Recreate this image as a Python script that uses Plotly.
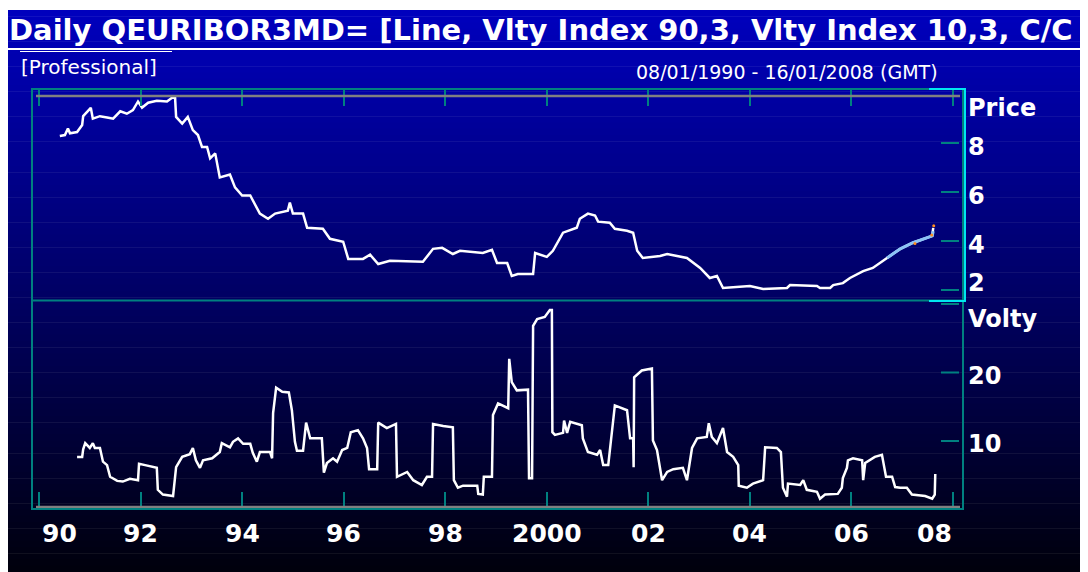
import plotly.graph_objects as go

# ---------------- data ----------------
price_years = [1990.41, 1990.51, 1990.57, 1990.61, 1990.75, 1990.85, 1990.87, 1991.02, 1991.06, 1991.20,
               1991.34, 1991.46, 1991.60, 1991.73, 1991.85, 1991.95, 1992.03, 1992.15, 1992.32, 1992.52,
               1992.62, 1992.68, 1992.70, 1992.82, 1992.93, 1993.03, 1993.13, 1993.21, 1993.31, 1993.37,
               1993.47, 1993.56, 1993.76, 1993.86, 1994.00, 1994.16, 1994.35, 1994.51, 1994.65, 1994.90,
               1994.94, 1995.00, 1995.20, 1995.28, 1995.59, 1995.73, 1995.99, 1996.09, 1996.38, 1996.52,
               1996.68, 1996.91, 1997.56, 1997.76, 1997.94, 1998.15, 1998.29, 1998.74, 1998.92, 1999.02,
               1999.22, 1999.31, 1999.43, 1999.73, 1999.77, 2000.00, 2000.12, 2000.32, 2000.59, 2000.65,
               2000.81, 2000.95, 2001.01, 2001.24, 2001.34, 2001.58, 2001.70, 2001.78, 2001.89, 2002.23,
               2002.37, 2002.76, 2003.02, 2003.21, 2003.35, 2003.47, 2004.00, 2004.26, 2004.73, 2004.79,
               2005.32, 2005.38, 2005.58, 2005.64, 2005.83, 2005.97, 2006.23, 2006.42, 2006.70, 2006.96,
               2007.21, 2007.41, 2007.59, 2007.61]
price_values = [8.29, 8.33, 8.60, 8.40, 8.45, 8.74, 9.10, 9.44, 9.00, 9.10,
                9.05, 9.00, 9.30, 9.20, 9.35, 9.70, 9.45, 9.65, 9.73, 9.70,
                9.85, 9.85, 9.07, 8.80, 9.07, 8.53, 8.33, 7.84, 7.84, 7.38,
                7.58, 6.60, 6.72, 6.19, 5.86, 5.86, 5.12, 4.91, 5.12, 5.24,
                5.57, 5.12, 5.12, 4.54, 4.50, 4.09, 3.97, 3.27, 3.27, 3.44,
                3.06, 3.19, 3.15, 3.68, 3.72, 3.47, 3.60, 3.51, 3.64, 3.10,
                3.10, 2.57, 2.65, 2.65, 3.51, 3.35, 3.60, 4.34, 4.54, 4.91,
                5.12, 5.04, 4.79, 4.75, 4.50, 4.42, 4.34, 3.60, 3.31, 3.39,
                3.47, 3.31, 2.90, 2.49, 2.57, 2.08, 2.16, 2.04, 2.08, 2.20,
                2.16, 2.08, 2.08, 2.20, 2.28, 2.49, 2.77, 2.90, 3.31, 3.68,
                3.93, 4.09, 4.21, 4.54]

recent_years = [2006.70, 2006.96, 2007.21, 2007.41, 2007.59, 2007.61]
recent_values = [3.31, 3.68, 3.93, 4.09, 4.21, 4.40]
marker_years = [2007.25, 2007.58, 2007.62]
marker_values = [3.90, 4.25, 4.62]

vol_years = [1990.75, 1990.85, 1990.87, 1990.91, 1991.00, 1991.06, 1991.10, 1991.20, 1991.26, 1991.34,
             1991.40, 1991.54, 1991.65, 1991.79, 1991.95, 1991.97, 1992.09, 1992.32, 1992.34, 1992.44,
             1992.64, 1992.70, 1992.82, 1992.97, 1993.03, 1993.09, 1993.17, 1993.23, 1993.41, 1993.56,
             1993.60, 1993.76, 1993.82, 1993.92, 1994.02, 1994.16, 1994.21, 1994.29, 1994.35, 1994.55,
             1994.59, 1994.61, 1994.67, 1994.79, 1994.92, 1994.98, 1995.04, 1995.08, 1995.20, 1995.26,
             1995.34, 1995.57, 1995.61, 1995.67, 1995.79, 1995.87, 1995.97, 1996.07, 1996.14, 1996.28,
             1996.38, 1996.46, 1996.50, 1996.66, 1996.68, 1996.85, 1997.03, 1997.05, 1997.25, 1997.37,
             1997.54, 1997.64, 1997.74, 1997.76, 1997.96, 1998.15, 1998.17, 1998.25, 1998.35, 1998.63,
             1998.65, 1998.74, 1998.76, 1998.92, 1998.94, 1999.04, 1999.24, 1999.26, 1999.31, 1999.41,
             1999.63, 1999.65, 1999.71, 1999.73, 1999.81, 1999.96, 2000.06, 2000.10, 2000.11, 2000.16,
             2000.32, 2000.34, 2000.40, 2000.46, 2000.69, 2000.71, 2000.81, 2000.99, 2001.05, 2001.11,
             2001.21, 2001.24, 2001.34, 2001.58, 2001.64, 2001.70, 2001.71, 2001.72, 2001.87, 2002.07,
             2002.09, 2002.17, 2002.27, 2002.37, 2002.49, 2002.68, 2002.76, 2002.86, 2002.96, 2003.15,
             2003.19, 2003.25, 2003.35, 2003.47, 2003.55, 2003.67, 2003.77, 2003.78, 2003.94, 2004.06,
             2004.26, 2004.30, 2004.53, 2004.61, 2004.65, 2004.73, 2004.75, 2004.99, 2005.05, 2005.12,
             2005.32, 2005.38, 2005.48, 2005.73, 2005.81, 2005.83, 2005.91, 2005.93, 2006.03, 2006.21,
             2006.23, 2006.27, 2006.46, 2006.60, 2006.68, 2006.80, 2006.86, 2006.96, 2007.09, 2007.19,
             2007.45, 2007.59, 2007.64, 2007.65]
vol_values = [7.7, 7.7, 8.8, 9.7, 9.0, 9.7, 9.0, 9.0, 7.0, 6.5,
              4.8, 4.2, 4.1, 4.5, 4.3, 6.7, 6.5, 6.1, 2.9, 2.2,
              2.0, 6.2, 7.7, 8.1, 9.0, 7.2, 6.1, 7.2, 7.5, 8.4,
              9.7, 9.1, 9.9, 10.4, 9.6, 9.6, 8.3, 7.0, 8.4, 8.4,
              7.5, 14.1, 17.8, 17.2, 17.1, 14.5, 9.9, 8.6, 8.6, 12.7,
              10.4, 10.4, 5.4, 6.8, 7.5, 7.0, 8.7, 9.0, 11.3, 11.6,
              10.4, 9.0, 5.9, 5.9, 12.7, 11.9, 12.5, 4.8, 5.5, 4.3,
              3.6, 4.8, 4.8, 12.5, 12.2, 12.0, 4.3, 3.2, 3.5, 3.5,
              2.3, 2.2, 4.8, 4.8, 13.8, 15.5, 14.8, 22.0, 18.6, 17.4,
              17.5, 4.6, 4.6, 26.8, 27.8, 28.1, 29.1, 29.1, 11.3, 10.9,
              11.2, 13.0, 11.2, 12.8, 12.3, 10.4, 8.4, 8.0, 8.7, 6.5,
              6.5, 8.4, 15.2, 14.5, 10.4, 10.4, 6.2, 19.3, 20.3, 20.6,
              10.1, 8.7, 4.3, 5.5, 5.9, 6.1, 4.3, 9.0, 10.4, 10.6,
              12.6, 10.6, 9.7, 11.9, 8.4, 7.7, 6.5, 3.5, 3.2, 3.8,
              4.3, 9.1, 9.0, 8.4, 3.2, 1.9, 3.8, 3.6, 4.3, 2.9,
              2.6, 1.6, 2.2, 2.3, 3.2, 4.6, 6.1, 7.2, 7.5, 7.2,
              4.3, 6.8, 7.7, 8.0, 4.8, 4.8, 3.3, 3.2, 3.2, 2.2,
              2.0, 1.6, 2.2, 5.2]

x_tick_years = [1990, 1992, 1994, 1996, 1998, 2000, 2002, 2004, 2006, 2008]
x_tick_text = ["90", "92", "94", "96", "98", "2000", "02", "04", "06", "08"]
x_label_years = [1990.41, 1992, 1994, 1996, 1998, 2000, 2002, 2004, 2006, 2007.64]
price_ticks = [8, 6, 4, 2]
vol_ticks = [30, 20, 10]
vol_tick_text = ["", "20", "10"]

# ---------------- layout geometry ----------------
# the page body has an 8px margin; positions below are given in page pixels
OFF = 8
W, H = 1076, 564
L, T = 32 - OFF, 89 - OFF
PLOT_R, PLOT_B = 963 - OFF, 509 - OFF
R, B = W - PLOT_R, H - PLOT_B
PW, PH = PLOT_R - L, PLOT_B - T


def px(x):
    return (x - OFF - L) / PW


def py(y):
    return (PLOT_B - (y - OFF)) / PH


SPLIT = py(300.5)

TEAL = "rgb(0,128,128)"
CYAN = "rgb(0,230,240)"
GREY = "rgb(128,128,128)"
BOLD = "DejaVu Sans"

fig = go.Figure()
fig.add_trace(go.Scatter(x=price_years, y=price_values, mode="lines",
                         line=dict(color="white", width=2.5), xaxis="x2", yaxis="y2",
                         showlegend=False, hoverinfo="skip"))
fig.add_trace(go.Scatter(x=recent_years, y=recent_values, mode="lines",
                         line=dict(color="rgb(140,195,245)", width=3), xaxis="x2", yaxis="y2",
                         showlegend=False, hoverinfo="skip"))
fig.add_trace(go.Scatter(x=marker_years, y=marker_values, mode="markers",
                         marker=dict(color="rgb(255,140,30)", size=3), xaxis="x2", yaxis="y2",
                         showlegend=False, hoverinfo="skip"))
fig.add_trace(go.Scatter(x=vol_years, y=vol_values, mode="lines",
                         line=dict(color="white", width=2.5), xaxis="x", yaxis="y",
                         showlegend=False, hoverinfo="skip"))

shapes = []
# gradient background (page y 10 .. bottom)
N = 90
y_top, y_bot = 10, H + OFF
for i in range(N):
    ya = y_top + (y_bot - y_top) * i / N
    yb = y_top + (y_bot - y_top) * (i + 1) / N
    t = (ya + yb) / 2
    b = max(0, int(round(190 * (1 - (t - 10) / 600))))
    shapes.append(dict(type="rect", xref="paper", yref="paper", x0=px(OFF), x1=px(OFF + W),
                       y0=py(yb + 0.5), y1=py(ya), line=dict(width=0),
                       fillcolor=f"rgb(0,0,{b})", layer="below"))
# header underline
shapes.append(dict(type="line", xref="paper", yref="paper", x0=px(8), x1=px(1088),
                   y0=py(49), y1=py(49), line=dict(color="white", width=2), layer="above"))
shapes.append(dict(type="line", xref="paper", yref="paper", x0=px(20), x1=px(172),
                   y0=py(51.5), y1=py(51.5), line=dict(color="white", width=1), layer="above"))
# grey axis lines
for yy in (96, 507):
    shapes.append(dict(type="line", xref="paper", yref="paper", x0=px(36), x1=px(960),
                       y0=py(yy), y1=py(yy), line=dict(color=GREY, width=2.5), layer="above"))
# teal frame
shapes.append(dict(type="rect", xref="paper", yref="paper", x0=px(32), x1=px(963),
                   y0=py(509), y1=py(89), line=dict(color=TEAL, width=2), layer="above"))
shapes.append(dict(type="line", xref="paper", yref="paper", x0=px(32), x1=px(963),
                   y0=py(300.5), y1=py(300.5), line=dict(color=TEAL, width=2), layer="above"))
# cyan selection of price panel
shapes.append(dict(type="path", xref="paper", yref="paper",
                   path=f"M {px(929)},{py(89)} L {px(965)},{py(89)} L {px(965)},{py(301)} L {px(929)},{py(301)}",
                   line=dict(color=CYAN, width=2), layer="above"))
# right ticks
for v in price_ticks:
    shapes.append(dict(type="line", xref="paper", yref="y2", x0=px(941), x1=px(959),
                       y0=v, y1=v, line=dict(color=TEAL, width=2), layer="above"))
for v in vol_ticks:
    shapes.append(dict(type="line", xref="paper", yref="y", x0=px(941), x1=px(959),
                       y0=v, y1=v, line=dict(color=TEAL, width=2), layer="above"))

ann = []
ann.append(dict(text="<b>Daily QEURIBOR3MD= [Line, Vlty Index 90,3, Vlty Index 10,3, C/C</b>",
                xref="paper", yref="paper", x=px(7), y=py(30), xanchor="left", yanchor="middle",
                showarrow=False, font=dict(family=BOLD, size=29, color="white")))
ann.append(dict(text="[Professional]", xref="paper", yref="paper", x=px(19), y=py(67),
                xanchor="left", yanchor="middle", showarrow=False,
                font=dict(family="DejaVu Sans", size=20, color="white")))
ann.append(dict(text="08/01/1990 - 16/01/2008 (GMT)", xref="paper", yref="paper", x=px(787), y=py(72),
                xanchor="center", yanchor="middle", showarrow=False,
                font=dict(family="DejaVu Sans", size=19, color="white")))
ann.append(dict(text="<b>Price</b>", xref="paper", yref="paper", x=px(966), y=py(108),
                xanchor="left", yanchor="middle", showarrow=False,
                font=dict(family=BOLD, size=24, color="white")))
ann.append(dict(text="<b>Volty</b>", xref="paper", yref="paper", x=px(966), y=py(319),
                xanchor="left", yanchor="middle", showarrow=False,
                font=dict(family=BOLD, size=24, color="white")))
for v in price_ticks:
    ann.append(dict(text=f"<b>{v}</b>", xref="paper", yref="y2", x=px(966), y=v,
                    xanchor="left", yanchor="middle", showarrow=False,
                    yshift=(7 if v == 2 else -4),
                    font=dict(family=BOLD, size=24, color="white")))
for v, t in zip(vol_ticks, vol_tick_text):
    if t:
        ann.append(dict(text=f"<b>{t}</b>", xref="paper", yref="y", x=px(966), y=v,
                        xanchor="left", yanchor="middle", showarrow=False, yshift=-3,
                        font=dict(family=BOLD, size=24, color="white")))
for xv, t in zip(x_label_years, x_tick_text):
    ann.append(dict(text=f"<b>{t}</b>", xref="x", yref="paper", x=xv, y=py(533),
                    xanchor="center", yanchor="middle", showarrow=False,
                    font=dict(family=BOLD, size=25, color="white")))

xr = [1990 + (32 - 39) / 50.78, 1990 + (963 - 39) / 50.78]
xcommon = dict(range=xr, showgrid=False, zeroline=False, showline=False, showticklabels=False,
               ticks="inside", ticklen=17, tickwidth=2, tickcolor=TEAL, tickvals=x_tick_years,
               fixedrange=True)

fig.update_layout(
    width=W, height=H,
    margin=dict(l=L, r=R, t=T, b=B, pad=0),
    paper_bgcolor="white",
    plot_bgcolor="rgba(0,0,0,0)",
    xaxis=dict(domain=[0, 1], anchor="y", **xcommon),
    xaxis2=dict(domain=[0, 1], anchor="y2", side="top", matches="x", **xcommon),
    yaxis=dict(domain=[0, SPLIT], range=[0.1, 30.5], showgrid=False, zeroline=False,
               showticklabels=False, ticks="", showline=False, fixedrange=True),
    yaxis2=dict(domain=[SPLIT, 1], range=[1.57, 10.21], showgrid=False, zeroline=False,
                showticklabels=False, ticks="", showline=False, fixedrange=True),
    shapes=shapes,
    annotations=ann,
    showlegend=False,
)

fig.write_html("out.html")
